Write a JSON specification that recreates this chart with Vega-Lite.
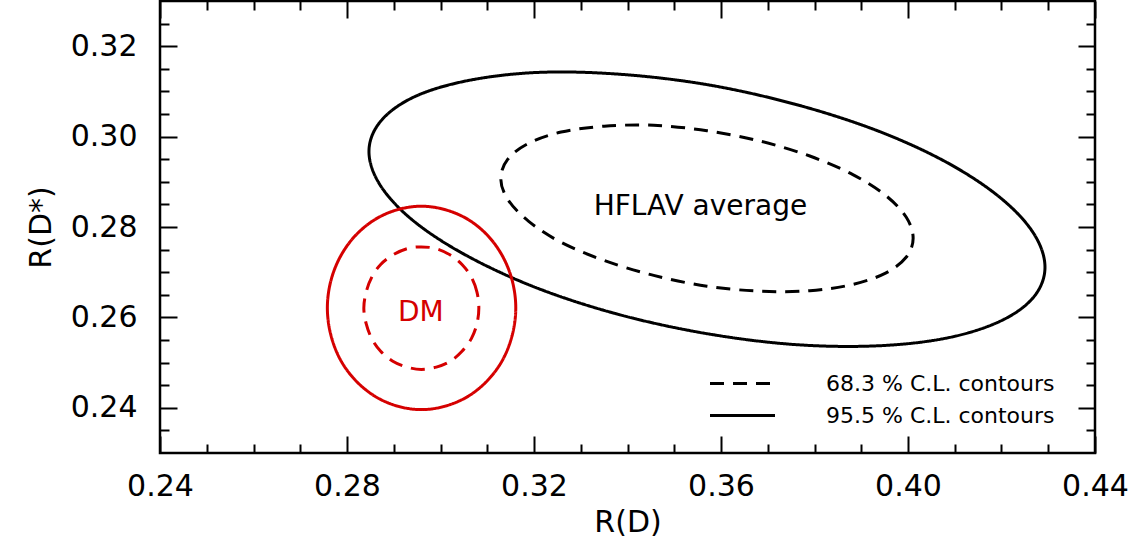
{
  "$schema": "https://vega.github.io/schema/vega-lite/v6.json",
  "autosize": {"type": "none"},
  "width": 935,
  "height": 452,
  "padding": {"left": 160, "top": 1, "right": 50, "bottom": 97},
  "background": "white",
  "datasets": {
    "contours": [
      {"curve": "HFLAV 95.5", "source": "HFLAV", "level": "95.5 % C.L. contours", "i": 0, "x": 0.4293, "y": 0.2711},
      {"curve": "HFLAV 95.5", "source": "HFLAV", "level": "95.5 % C.L. contours", "i": 1, "x": 0.4268, "y": 0.2644},
      {"curve": "HFLAV 95.5", "source": "HFLAV", "level": "95.5 % C.L. contours", "i": 2, "x": 0.4196, "y": 0.2591},
      {"curve": "HFLAV 95.5", "source": "HFLAV", "level": "95.5 % C.L. contours", "i": 3, "x": 0.4081, "y": 0.2554},
      {"curve": "HFLAV 95.5", "source": "HFLAV", "level": "95.5 % C.L. contours", "i": 4, "x": 0.3932, "y": 0.2537},
      {"curve": "HFLAV 95.5", "source": "HFLAV", "level": "95.5 % C.L. contours", "i": 5, "x": 0.3757, "y": 0.2540},
      {"curve": "HFLAV 95.5", "source": "HFLAV", "level": "95.5 % C.L. contours", "i": 6, "x": 0.3570, "y": 0.2564},
      {"curve": "HFLAV 95.5", "source": "HFLAV", "level": "95.5 % C.L. contours", "i": 7, "x": 0.3383, "y": 0.2606},
      {"curve": "HFLAV 95.5", "source": "HFLAV", "level": "95.5 % C.L. contours", "i": 8, "x": 0.3209, "y": 0.2664},
      {"curve": "HFLAV 95.5", "source": "HFLAV", "level": "95.5 % C.L. contours", "i": 9, "x": 0.3059, "y": 0.2735},
      {"curve": "HFLAV 95.5", "source": "HFLAV", "level": "95.5 % C.L. contours", "i": 10, "x": 0.2944, "y": 0.2812},
      {"curve": "HFLAV 95.5", "source": "HFLAV", "level": "95.5 % C.L. contours", "i": 11, "x": 0.2872, "y": 0.2891},
      {"curve": "HFLAV 95.5", "source": "HFLAV", "level": "95.5 % C.L. contours", "i": 12, "x": 0.2847, "y": 0.2967},
      {"curve": "HFLAV 95.5", "source": "HFLAV", "level": "95.5 % C.L. contours", "i": 13, "x": 0.2872, "y": 0.3034},
      {"curve": "HFLAV 95.5", "source": "HFLAV", "level": "95.5 % C.L. contours", "i": 14, "x": 0.2944, "y": 0.3088},
      {"curve": "HFLAV 95.5", "source": "HFLAV", "level": "95.5 % C.L. contours", "i": 15, "x": 0.3059, "y": 0.3124},
      {"curve": "HFLAV 95.5", "source": "HFLAV", "level": "95.5 % C.L. contours", "i": 16, "x": 0.3209, "y": 0.3142},
      {"curve": "HFLAV 95.5", "source": "HFLAV", "level": "95.5 % C.L. contours", "i": 17, "x": 0.3383, "y": 0.3138},
      {"curve": "HFLAV 95.5", "source": "HFLAV", "level": "95.5 % C.L. contours", "i": 18, "x": 0.3570, "y": 0.3115},
      {"curve": "HFLAV 95.5", "source": "HFLAV", "level": "95.5 % C.L. contours", "i": 19, "x": 0.3757, "y": 0.3072},
      {"curve": "HFLAV 95.5", "source": "HFLAV", "level": "95.5 % C.L. contours", "i": 20, "x": 0.3932, "y": 0.3014},
      {"curve": "HFLAV 95.5", "source": "HFLAV", "level": "95.5 % C.L. contours", "i": 21, "x": 0.4081, "y": 0.2944},
      {"curve": "HFLAV 95.5", "source": "HFLAV", "level": "95.5 % C.L. contours", "i": 22, "x": 0.4196, "y": 0.2866},
      {"curve": "HFLAV 95.5", "source": "HFLAV", "level": "95.5 % C.L. contours", "i": 23, "x": 0.4268, "y": 0.2787},
      {"curve": "HFLAV 68.3", "source": "HFLAV", "level": "68.3 % C.L. contours", "i": 0, "x": 0.4011, "y": 0.2775},
      {"curve": "HFLAV 68.3", "source": "HFLAV", "level": "68.3 % C.L. contours", "i": 1, "x": 0.3996, "y": 0.2733},
      {"curve": "HFLAV 68.3", "source": "HFLAV", "level": "68.3 % C.L. contours", "i": 2, "x": 0.3952, "y": 0.2698},
      {"curve": "HFLAV 68.3", "source": "HFLAV", "level": "68.3 % C.L. contours", "i": 3, "x": 0.3882, "y": 0.2673},
      {"curve": "HFLAV 68.3", "source": "HFLAV", "level": "68.3 % C.L. contours", "i": 4, "x": 0.3790, "y": 0.2659},
      {"curve": "HFLAV 68.3", "source": "HFLAV", "level": "68.3 % C.L. contours", "i": 5, "x": 0.3684, "y": 0.2658},
      {"curve": "HFLAV 68.3", "source": "HFLAV", "level": "68.3 % C.L. contours", "i": 6, "x": 0.3570, "y": 0.2669},
      {"curve": "HFLAV 68.3", "source": "HFLAV", "level": "68.3 % C.L. contours", "i": 7, "x": 0.3456, "y": 0.2693},
      {"curve": "HFLAV 68.3", "source": "HFLAV", "level": "68.3 % C.L. contours", "i": 8, "x": 0.3350, "y": 0.2726},
      {"curve": "HFLAV 68.3", "source": "HFLAV", "level": "68.3 % C.L. contours", "i": 9, "x": 0.3258, "y": 0.2766},
      {"curve": "HFLAV 68.3", "source": "HFLAV", "level": "68.3 % C.L. contours", "i": 10, "x": 0.3188, "y": 0.2813},
      {"curve": "HFLAV 68.3", "source": "HFLAV", "level": "68.3 % C.L. contours", "i": 11, "x": 0.3144, "y": 0.2861},
      {"curve": "HFLAV 68.3", "source": "HFLAV", "level": "68.3 % C.L. contours", "i": 12, "x": 0.3129, "y": 0.2907},
      {"curve": "HFLAV 68.3", "source": "HFLAV", "level": "68.3 % C.L. contours", "i": 13, "x": 0.3144, "y": 0.2950},
      {"curve": "HFLAV 68.3", "source": "HFLAV", "level": "68.3 % C.L. contours", "i": 14, "x": 0.3188, "y": 0.2985},
      {"curve": "HFLAV 68.3", "source": "HFLAV", "level": "68.3 % C.L. contours", "i": 15, "x": 0.3258, "y": 0.3010},
      {"curve": "HFLAV 68.3", "source": "HFLAV", "level": "68.3 % C.L. contours", "i": 16, "x": 0.3350, "y": 0.3023},
      {"curve": "HFLAV 68.3", "source": "HFLAV", "level": "68.3 % C.L. contours", "i": 17, "x": 0.3456, "y": 0.3025},
      {"curve": "HFLAV 68.3", "source": "HFLAV", "level": "68.3 % C.L. contours", "i": 18, "x": 0.3570, "y": 0.3013},
      {"curve": "HFLAV 68.3", "source": "HFLAV", "level": "68.3 % C.L. contours", "i": 19, "x": 0.3684, "y": 0.2990},
      {"curve": "HFLAV 68.3", "source": "HFLAV", "level": "68.3 % C.L. contours", "i": 20, "x": 0.3790, "y": 0.2957},
      {"curve": "HFLAV 68.3", "source": "HFLAV", "level": "68.3 % C.L. contours", "i": 21, "x": 0.3882, "y": 0.2916},
      {"curve": "HFLAV 68.3", "source": "HFLAV", "level": "68.3 % C.L. contours", "i": 22, "x": 0.3952, "y": 0.2870},
      {"curve": "HFLAV 68.3", "source": "HFLAV", "level": "68.3 % C.L. contours", "i": 23, "x": 0.3996, "y": 0.2822},
      {"curve": "DM 95.5", "source": "DM", "level": "95.5 % C.L. contours", "i": 0, "x": 0.3161, "y": 0.2621},
      {"curve": "DM 95.5", "source": "DM", "level": "95.5 % C.L. contours", "i": 1, "x": 0.3154, "y": 0.2679},
      {"curve": "DM 95.5", "source": "DM", "level": "95.5 % C.L. contours", "i": 2, "x": 0.3134, "y": 0.2733},
      {"curve": "DM 95.5", "source": "DM", "level": "95.5 % C.L. contours", "i": 3, "x": 0.3102, "y": 0.2780},
      {"curve": "DM 95.5", "source": "DM", "level": "95.5 % C.L. contours", "i": 4, "x": 0.3060, "y": 0.2816},
      {"curve": "DM 95.5", "source": "DM", "level": "95.5 % C.L. contours", "i": 5, "x": 0.3011, "y": 0.2838},
      {"curve": "DM 95.5", "source": "DM", "level": "95.5 % C.L. contours", "i": 6, "x": 0.2959, "y": 0.2846},
      {"curve": "DM 95.5", "source": "DM", "level": "95.5 % C.L. contours", "i": 7, "x": 0.2907, "y": 0.2838},
      {"curve": "DM 95.5", "source": "DM", "level": "95.5 % C.L. contours", "i": 8, "x": 0.2859, "y": 0.2816},
      {"curve": "DM 95.5", "source": "DM", "level": "95.5 % C.L. contours", "i": 9, "x": 0.2817, "y": 0.2780},
      {"curve": "DM 95.5", "source": "DM", "level": "95.5 % C.L. contours", "i": 10, "x": 0.2785, "y": 0.2733},
      {"curve": "DM 95.5", "source": "DM", "level": "95.5 % C.L. contours", "i": 11, "x": 0.2765, "y": 0.2679},
      {"curve": "DM 95.5", "source": "DM", "level": "95.5 % C.L. contours", "i": 12, "x": 0.2758, "y": 0.2621},
      {"curve": "DM 95.5", "source": "DM", "level": "95.5 % C.L. contours", "i": 13, "x": 0.2765, "y": 0.2563},
      {"curve": "DM 95.5", "source": "DM", "level": "95.5 % C.L. contours", "i": 14, "x": 0.2785, "y": 0.2508},
      {"curve": "DM 95.5", "source": "DM", "level": "95.5 % C.L. contours", "i": 15, "x": 0.2817, "y": 0.2462},
      {"curve": "DM 95.5", "source": "DM", "level": "95.5 % C.L. contours", "i": 16, "x": 0.2859, "y": 0.2426},
      {"curve": "DM 95.5", "source": "DM", "level": "95.5 % C.L. contours", "i": 17, "x": 0.2907, "y": 0.2404},
      {"curve": "DM 95.5", "source": "DM", "level": "95.5 % C.L. contours", "i": 18, "x": 0.2959, "y": 0.2396},
      {"curve": "DM 95.5", "source": "DM", "level": "95.5 % C.L. contours", "i": 19, "x": 0.3011, "y": 0.2404},
      {"curve": "DM 95.5", "source": "DM", "level": "95.5 % C.L. contours", "i": 20, "x": 0.3060, "y": 0.2426},
      {"curve": "DM 95.5", "source": "DM", "level": "95.5 % C.L. contours", "i": 21, "x": 0.3102, "y": 0.2462},
      {"curve": "DM 95.5", "source": "DM", "level": "95.5 % C.L. contours", "i": 22, "x": 0.3134, "y": 0.2508},
      {"curve": "DM 95.5", "source": "DM", "level": "95.5 % C.L. contours", "i": 23, "x": 0.3154, "y": 0.2563},
      {"curve": "DM 68.3", "source": "DM", "level": "68.3 % C.L. contours", "i": 0, "x": 0.3082, "y": 0.2621},
      {"curve": "DM 68.3", "source": "DM", "level": "68.3 % C.L. contours", "i": 1, "x": 0.3078, "y": 0.2656},
      {"curve": "DM 68.3", "source": "DM", "level": "68.3 % C.L. contours", "i": 2, "x": 0.3066, "y": 0.2689},
      {"curve": "DM 68.3", "source": "DM", "level": "68.3 % C.L. contours", "i": 3, "x": 0.3046, "y": 0.2717},
      {"curve": "DM 68.3", "source": "DM", "level": "68.3 % C.L. contours", "i": 4, "x": 0.3021, "y": 0.2738},
      {"curve": "DM 68.3", "source": "DM", "level": "68.3 % C.L. contours", "i": 5, "x": 0.2991, "y": 0.2752},
      {"curve": "DM 68.3", "source": "DM", "level": "68.3 % C.L. contours", "i": 6, "x": 0.2959, "y": 0.2756},
      {"curve": "DM 68.3", "source": "DM", "level": "68.3 % C.L. contours", "i": 7, "x": 0.2928, "y": 0.2752},
      {"curve": "DM 68.3", "source": "DM", "level": "68.3 % C.L. contours", "i": 8, "x": 0.2898, "y": 0.2738},
      {"curve": "DM 68.3", "source": "DM", "level": "68.3 % C.L. contours", "i": 9, "x": 0.2872, "y": 0.2717},
      {"curve": "DM 68.3", "source": "DM", "level": "68.3 % C.L. contours", "i": 10, "x": 0.2853, "y": 0.2689},
      {"curve": "DM 68.3", "source": "DM", "level": "68.3 % C.L. contours", "i": 11, "x": 0.2841, "y": 0.2656},
      {"curve": "DM 68.3", "source": "DM", "level": "68.3 % C.L. contours", "i": 12, "x": 0.2836, "y": 0.2621},
      {"curve": "DM 68.3", "source": "DM", "level": "68.3 % C.L. contours", "i": 13, "x": 0.2841, "y": 0.2586},
      {"curve": "DM 68.3", "source": "DM", "level": "68.3 % C.L. contours", "i": 14, "x": 0.2853, "y": 0.2553},
      {"curve": "DM 68.3", "source": "DM", "level": "68.3 % C.L. contours", "i": 15, "x": 0.2872, "y": 0.2525},
      {"curve": "DM 68.3", "source": "DM", "level": "68.3 % C.L. contours", "i": 16, "x": 0.2898, "y": 0.2503},
      {"curve": "DM 68.3", "source": "DM", "level": "68.3 % C.L. contours", "i": 17, "x": 0.2928, "y": 0.2490},
      {"curve": "DM 68.3", "source": "DM", "level": "68.3 % C.L. contours", "i": 18, "x": 0.2959, "y": 0.2485},
      {"curve": "DM 68.3", "source": "DM", "level": "68.3 % C.L. contours", "i": 19, "x": 0.2991, "y": 0.2490},
      {"curve": "DM 68.3", "source": "DM", "level": "68.3 % C.L. contours", "i": 20, "x": 0.3021, "y": 0.2503},
      {"curve": "DM 68.3", "source": "DM", "level": "68.3 % C.L. contours", "i": 21, "x": 0.3046, "y": 0.2525},
      {"curve": "DM 68.3", "source": "DM", "level": "68.3 % C.L. contours", "i": 22, "x": 0.3066, "y": 0.2553},
      {"curve": "DM 68.3", "source": "DM", "level": "68.3 % C.L. contours", "i": 23, "x": 0.3078, "y": 0.2586}
    ],
    "labels": [
      {"label": "HFLAV average", "source": "HFLAV", "x": 0.3556, "y": 0.2826},
      {"label": "DM", "source": "DM", "x": 0.2958, "y": 0.2592}
    ]
  },
  "config": {
    "view": {"stroke": "black", "strokeWidth": 2.5},
    "axis": {
      "domain": false,
      "grid": false,
      "labelFont": "DejaVu Sans",
      "labelFontSize": 30,
      "labelColor": "black",
      "tickColor": "black",
      "tickWidth": 2,
      "titleFont": "DejaVu Sans",
      "titleFontSize": 30,
      "titleFontWeight": "normal",
      "titleColor": "black"
    }
  },
  "resolve": {"axis": {"x": "independent", "y": "independent"}},
  "layer": [
    {
      "data": {"name": "contours"},
      "mark": {"type": "line", "interpolate": "cardinal-closed", "strokeWidth": 3},
      "encoding": {
        "x": {
          "field": "x", "type": "quantitative",
          "scale": {"domain": [0.24, 0.44], "nice": false, "zero": false},
          "axis": {"orient": "bottom", "values": [0.24, 0.28, 0.32, 0.36, 0.40, 0.44], "format": ".2f", "tickSize": -17, "labelPadding": 35, "title": "R(D)", "titlePadding": 6, "labelFlush": false, "labelOverlap": false}
        },
        "y": {
          "field": "y", "type": "quantitative",
          "scale": {"domain": [0.23, 0.33], "nice": false, "zero": false},
          "axis": {"orient": "left", "values": [0.24, 0.26, 0.28, 0.30, 0.32], "format": ".2f", "tickSize": -17, "labelPadding": 40, "title": "R(D*)", "titlePadding": 14, "labelOverlap": false}
        },
        "detail": {"field": "curve"},
        "order": {"field": "i", "type": "quantitative"},
        "color": {
          "field": "source", "type": "nominal",
          "scale": {"domain": ["HFLAV", "DM"], "range": ["black", "#d50000"]},
          "legend": null
        },
        "strokeDash": {
          "field": "level", "type": "nominal",
          "scale": {"domain": ["68.3 % C.L. contours", "95.5 % C.L. contours"], "range": [[14, 9], [1, 0]]},
          "legend": {
            "title": null,
            "orient": "none",
            "legendX": 568,
            "legendY": 368,
            "padding": 0,
            "symbolType": "M-2.5,0H2.5",
            "symbolSize": 676,
            "symbolStrokeWidth": 3,
            "symbolStrokeColor": "black",
            "labelFont": "DejaVu Sans",
            "labelFontSize": 22,
            "labelColor": "black",
            "labelOffset": 69,
            "rowPadding": 6,
            "labelLimit": 400
          }
        }
      }
    },
    {
      "data": {"name": "labels"},
      "mark": {"type": "text", "font": "DejaVu Sans", "fontSize": 28, "align": "center", "baseline": "alphabetic"},
      "encoding": {
        "x": {
          "field": "x", "type": "quantitative",
          "axis": {"orient": "bottom", "values": [0.25, 0.26, 0.27, 0.29, 0.30, 0.31, 0.33, 0.34, 0.35, 0.37, 0.38, 0.39, 0.41, 0.42, 0.43], "tickSize": -9, "labels": false, "title": null}
        },
        "y": {
          "field": "y", "type": "quantitative",
          "axis": {"orient": "left", "values": [0.235, 0.245, 0.25, 0.255, 0.265, 0.27, 0.275, 0.285, 0.29, 0.295, 0.305, 0.31, 0.315, 0.325], "tickSize": -9, "labels": false, "title": null}
        },
        "text": {"field": "label"},
        "color": {"field": "source", "type": "nominal", "legend": null}
      }
    },
    {
      "data": {"name": "labels"},
      "mark": {"type": "point", "opacity": 0},
      "encoding": {
        "x": {
          "field": "x", "type": "quantitative",
          "axis": {"orient": "top", "values": [0.24, 0.28, 0.32, 0.36, 0.40, 0.44], "tickSize": -17, "labels": false, "title": null}
        },
        "y": {
          "field": "y", "type": "quantitative",
          "axis": {"orient": "right", "values": [0.24, 0.26, 0.28, 0.30, 0.32], "tickSize": -17, "labels": false, "title": null}
        }
      }
    },
    {
      "data": {"name": "labels"},
      "mark": {"type": "point", "opacity": 0},
      "encoding": {
        "x": {
          "field": "x", "type": "quantitative",
          "axis": {"orient": "top", "values": [0.25, 0.26, 0.27, 0.29, 0.30, 0.31, 0.33, 0.34, 0.35, 0.37, 0.38, 0.39, 0.41, 0.42, 0.43], "tickSize": -9, "labels": false, "title": null}
        },
        "y": {
          "field": "y", "type": "quantitative",
          "axis": {"orient": "right", "values": [0.235, 0.245, 0.25, 0.255, 0.265, 0.27, 0.275, 0.285, 0.29, 0.295, 0.305, 0.31, 0.315, 0.325], "tickSize": -9, "labels": false, "title": null}
        }
      }
    }
  ]
}
